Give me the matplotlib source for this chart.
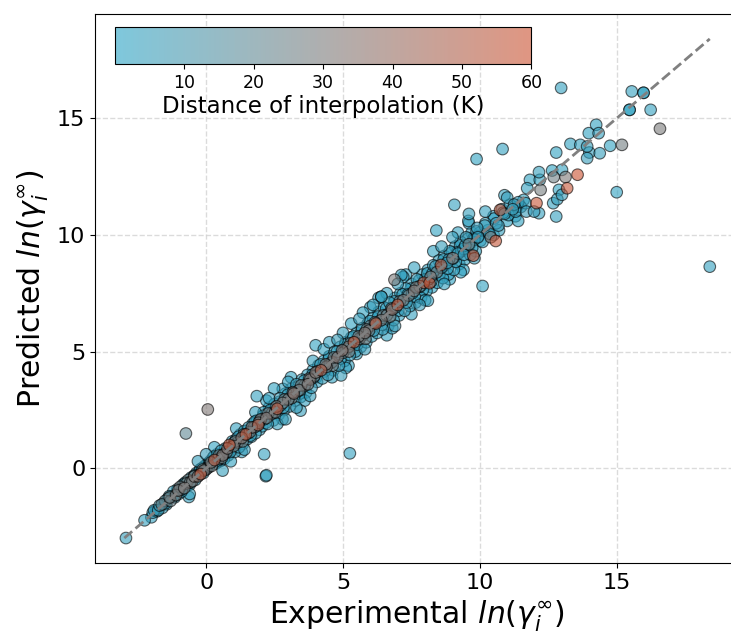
import numpy as np
import matplotlib
matplotlib.use("Agg")
import matplotlib.pyplot as plt
from matplotlib.colors import LinearSegmentedColormap

# Experimental vs predicted ln(gamma_inf), colour = distance of interpolation (K)
# values

# narrow band, -2 .. 0
band1_exp = [-2.0, -1.9, -1.8, -1.7, -1.6, -1.5, -1.45, -1.4, -1.3, -1.25, -1.2, -1.1, -1.05, -1.0,
             -0.95, -0.9, -0.85, -0.8, -0.75, -0.7, -0.65, -0.6, -0.55, -0.5, -0.45, -0.4, -0.35,
             -0.3, -0.25, -0.2, -0.15, -0.1, -0.05, 0.0, 0.05, 0.1]
band1_pred = [-2.1, -1.8, -1.85, -1.6, -1.7, -1.4, -1.55, -1.3, -1.4, -1.2, -1.0, -1.15, -0.9, -1.1,
              -0.8, -1.0, -0.7, -0.85, -0.6, -0.75, -0.5, -0.7, -0.4, -0.55, -0.35, -0.5, -0.2,
              -0.35, -0.15, -0.25, 0.0, -0.2, 0.1, -0.05, 0.2, 0.05]
band1_dist = [3, 5, 2, 8, 4, 20, 3, 6, 25, 2, 4, 30, 3, 1, 28, 5, 2, 32, 4, 1, 26, 3, 2, 30, 6, 1, 3,
              35, 2, 55, 4, 1, 3, 28, 2, 5]

# 0 .. 2
band2_exp = [0.15, 0.2, 0.25, 0.3, 0.35, 0.4, 0.45, 0.5, 0.55, 0.6, 0.65, 0.7, 0.75, 0.8, 0.85, 0.9,
             0.95, 1.0, 1.05, 1.1, 1.15, 1.2, 1.25, 1.3, 1.35, 1.4, 1.45, 1.5, 1.55, 1.6, 1.65, 1.7,
             1.75, 1.8, 1.85, 1.9, 1.95, 0.3, 0.6, 1.1, 1.4, 0.9, 1.8, 0.0, -0.3]
band2_pred = [0.3, 0.1, 0.45, 0.35, 0.2, 0.6, 0.4, 0.3, 0.75, 0.55, 0.4, 0.85, 0.7, 0.55, 1.0, 0.8,
              1.15, 0.95, 0.7, 1.25, 1.1, 0.9, 1.45, 1.3, 1.05, 1.6, 1.45, 1.25, 1.75, 1.55, 1.35, 1.9,
              1.75, 1.5, 2.05, 1.85, 1.65, 0.9, -0.1, 1.7, 0.8, 0.3, 2.4, 0.6, 0.3]
band2_dist = [3, 30, 2, 52, 4, 1, 27, 3, 5, 33, 2, 4, 29, 1, 58, 3, 2, 31, 4, 2, 26, 5, 3, 34, 1, 4,
              55, 2, 6, 30, 3, 1, 28, 4, 2, 50, 3, 2, 4, 3, 5, 2, 3, 5, 4]

# 2 .. 4
band3_exp = [2.0, 2.05, 2.1, 2.2, 2.25, 2.3, 2.4, 2.45, 2.5, 2.6, 2.65, 2.7, 2.8, 2.85, 2.9, 3.0,
             3.05, 3.1, 3.2, 3.25, 3.3, 3.4, 3.45, 3.5, 3.6, 3.65, 3.7, 3.8, 3.85, 3.9, 3.95,
             2.3, 2.6, 3.1, 3.6, 3.3, 2.8, 3.9, 2.9]
band3_pred = [2.1, 1.8, 2.4, 2.15, 1.9, 2.6, 2.35, 2.05, 2.75, 2.55, 2.3, 3.0, 2.8, 2.5, 3.2, 2.95,
              2.65, 3.4, 3.2, 2.9, 3.6, 3.35, 3.05, 3.8, 3.55, 3.25, 4.0, 3.8, 3.45, 4.2, 3.95,
              3.0, 1.9, 3.9, 2.9, 2.6, 3.4, 4.6, 2.1]
band3_dist = [29, 3, 2, 33, 5, 1, 27, 4, 3, 54, 2, 6, 31, 3, 1, 28, 4, 2, 35, 3, 5, 30, 2, 4, 26, 1,
              3, 32, 5, 2, 29, 3, 4, 2, 3, 5, 2, 4, 6]

# 4 .. 6
band4_exp = [4.0, 4.05, 4.1, 4.2, 4.25, 4.3, 4.4, 4.45, 4.5, 4.6, 4.65, 4.7, 4.8, 4.85, 4.9, 5.0,
             5.05, 5.1, 5.2, 5.25, 5.3, 5.4, 5.45, 5.5, 5.6, 5.65, 5.7, 5.8, 5.85, 5.9, 5.95,
             4.3, 4.6, 5.0, 5.5, 5.3, 5.8, 4.8, 5.1]
band4_pred = [4.1, 3.7, 4.4, 4.2, 3.85, 4.6, 4.35, 4.0, 4.8, 4.55, 4.2, 5.0, 4.75, 4.4, 5.2, 4.95,
              4.6, 5.4, 5.2, 4.85, 5.6, 5.4, 5.0, 5.8, 5.55, 5.2, 6.0, 5.8, 5.4, 6.2, 5.9,
              5.1, 3.9, 5.8, 4.9, 6.2, 5.1, 5.5, 4.3]
band4_dist = [33, 3, 2, 52, 4, 1, 30, 5, 3, 28, 2, 4, 34, 6, 1, 27, 3, 2, 31, 5, 3, 56, 4, 2, 29, 1,
              5, 33, 3, 2, 30, 3, 2, 4, 3, 2, 5, 6, 3]

# 6 .. 8
band5_exp = [6.0, 6.05, 6.1, 6.2, 6.25, 6.3, 6.4, 6.45, 6.5, 6.6, 6.65, 6.7, 6.8, 6.85, 6.9, 7.0,
             7.05, 7.1, 7.2, 7.25, 7.3, 7.4, 7.45, 7.5, 7.6, 7.65, 7.7, 7.8, 7.85, 7.9, 7.95,
             6.3, 6.6, 7.0, 7.5, 7.3, 7.8, 6.9, 7.6, 6.0, 6.4]
band5_pred = [6.1, 5.65, 6.45, 6.2, 5.8, 6.7, 6.35, 5.95, 6.9, 6.55, 6.1, 7.1, 6.8, 6.35, 7.3, 7.0,
              6.55, 7.5, 7.2, 6.75, 7.7, 7.4, 6.95, 7.9, 7.6, 7.1, 8.1, 7.8, 7.3, 8.3, 7.95,
              7.3, 5.7, 7.9, 6.6, 8.3, 7.0, 6.1, 8.6, 6.9, 7.35]
band5_dist = [28, 3, 2, 54, 4, 1, 31, 5, 3, 27, 2, 4, 35, 6, 1, 57, 3, 2, 30, 5, 3, 29, 4, 2, 33, 1,
              5, 26, 3, 2, 53, 3, 2, 4, 3, 2, 5, 6, 3, 2, 4]

# 8 .. 10
band6_exp = [8.0, 8.05, 8.1, 8.2, 8.25, 8.3, 8.4, 8.45, 8.5, 8.6, 8.65, 8.7, 8.8, 8.85, 8.9, 9.0,
             9.05, 9.1, 9.2, 9.25, 9.3, 9.4, 9.45, 9.5, 9.6, 9.65, 9.7, 9.8, 9.85, 9.9, 9.95,
             8.3, 8.7, 9.0, 9.4, 9.2, 9.8, 8.9, 9.6]
band6_pred = [8.1, 7.6, 8.5, 8.2, 7.75, 8.7, 8.4, 7.95, 8.9, 8.6, 8.15, 9.1, 8.8, 8.3, 9.3, 9.0,
              8.5, 9.5, 9.2, 8.75, 9.7, 9.4, 8.95, 9.9, 9.6, 9.15, 10.1, 9.8, 9.3, 10.3, 9.95,
              9.3, 7.9, 9.9, 8.5, 10.1, 9.0, 8.1, 10.5]
band6_dist = [4, 2, 3, 30, 1, 5, 3, 2, 4, 6, 3, 1, 6, 2, 4, 32, 3, 2, 5, 1, 3, 4, 2, 6, 28, 3, 1, 4,
              2, 5, 3, 2, 3, 4, 2, 3, 5, 1, 3]

# 10 .. 12
band7_exp = [10.0, 10.1, 10.2, 10.3, 10.4, 10.5, 10.6, 10.7, 10.8, 10.9, 11.0, 11.1, 11.2, 11.3,
             11.4, 11.5, 11.6, 11.7, 10.2, 10.5, 11.0]
band7_pred = [10.1, 9.7, 10.5, 10.2, 9.9, 10.8, 10.5, 10.2, 11.1, 10.9, 10.6, 11.3, 11.1, 10.8,
              11.4, 11.2, 11.5, 11.0, 11.0, 10.0, 11.6]
band7_dist = [2, 3, 4, 1, 30, 2, 5, 3, 2, 4, 1, 3, 6, 2, 4, 3, 2, 5, 3, 2, 4]

# more points filling the band, -1.6 .. 11.4
fill_exp = [-1.55, -1.35, -1.15, -0.98, -0.78, -0.58, -0.42, -0.22, -0.08, 0.12, 0.28, 0.42, 0.58,
            0.72, 0.88, 1.02, 1.18, 1.33, 1.48, 1.62, 1.78, 1.92, 2.08, 2.18, 2.35, 2.52, 2.68,
            2.82, 2.98, 3.12, 3.28, 3.42, 3.58, 3.72, 3.88, 4.02, 4.18, 4.32, 4.48, 4.62, 4.78,
            4.92, 5.08, 5.22, 5.38, 5.52, 5.68, 5.82, 5.98, 6.12, 6.28, 6.42, 6.58, 6.72, 6.88,
            7.02, 7.18, 7.32, 7.48, 7.62, 7.78, 7.92, 8.08, 8.22, 8.38, 8.52, 8.68, 8.82, 8.98,
            9.12, 9.28, 9.42, 9.58, 9.72, 9.88, 10.02, 10.18, 10.35, 10.52, 10.68, 10.85, 11.05,
            11.25, 4.5, 5.2, 6.1, 6.8, 7.2, 8.0, 8.6, 9.3, 3.0, 3.8, 2.2, 1.3, 10.9, 11.4, 5.6, 6.6]
fill_pred = [-1.5, -1.2, -1.25, -0.95, -0.65, -0.6, -0.3, -0.05, -0.1, 0.15, 0.5, 0.3, 0.45,
             0.65, 0.7, 1.1, 1.35, 1.15, 1.6, 1.4, 2.0, 1.95, 2.25, 1.95, 2.5, 2.4, 2.85,
             2.6, 3.15, 3.0, 3.45, 3.2, 3.75, 3.6, 4.0, 3.9, 4.45, 4.15, 4.7, 4.4, 5.0,
             4.7, 5.3, 5.0, 5.65, 5.3, 5.9, 5.55, 6.3, 5.9, 6.5, 6.15, 6.85, 6.5, 7.15,
             6.75, 7.45, 7.1, 7.7, 7.35, 8.05, 7.65, 8.35, 8.0, 8.65, 8.3, 8.95, 8.55, 9.25,
             8.85, 9.55, 9.15, 9.85, 9.45, 10.15, 9.75, 10.4, 10.05, 10.7, 10.4, 10.95, 10.85,
             11.3, 5.4, 4.4, 7.0, 6.0, 8.2, 7.2, 9.5, 8.4, 3.7, 3.1, 2.9, 0.7, 11.7, 10.6, 6.4, 7.5]
fill_dist = [2, 4, 3, 5, 2, 27, 4, 3, 30, 2, 4, 3, 29, 2, 4, 3, 5, 28, 2, 4, 3, 31, 2, 4, 3, 30, 2,
             4, 5, 27, 3, 2, 4, 33, 3, 2, 5, 3, 2, 29, 4, 3, 2, 32, 3, 4, 2, 30, 3, 5, 2, 4, 3, 28,
             2, 4, 3, 5, 2, 4, 3, 2, 4, 3, 5, 2, 4, 3, 2, 4, 3, 5, 2, 4, 3, 2, 4, 3, 2, 5, 3, 2, 4,
             3, 2, 4, 3, 2, 3, 4, 2, 3, 4, 2, 3, 3, 2, 5, 3]

# points right on the diagonal (dark core of the band)
core_exp = [-1.95, -1.75, -1.62, -1.48, -1.33, -1.18, -1.02, -0.88, -0.72, -0.57,
            -0.43, -0.27, -0.12, 0.03, 0.18, 0.33, 0.47, 0.63, 0.78, 0.93,
            1.07, 1.22, 1.38, 1.53, 1.67, 1.83, 1.97, 2.12, 2.27, 2.43,
            2.57, 2.72, 2.87, 3.03, 3.17, 3.33, 3.47, 3.63, 3.77, 3.93,
            4.07, 4.23, 4.37, 4.53, 4.67, 4.83, 4.97, 5.13, 5.27, 5.43,
            5.57, 5.73, 5.87, 6.03, 6.17, 6.33, 6.47, 6.63, 6.77, 6.93,
            7.07, 7.23, 7.37, 7.53, 7.67, 7.83, 7.97, 8.13, 8.27, 8.43,
            8.57, 8.73, 8.87, 9.03, 9.17, 9.33, 9.47, 9.63, 9.77, 9.93]
core_pred = [-1.9, -1.8, -1.55, -1.5, -1.25, -1.2, -0.95, -0.9, -0.65, -0.6,
             -0.35, -0.3, -0.05, 0.0, 0.25, 0.3, 0.55, 0.6, 0.85, 0.9,
             1.15, 1.2, 1.45, 1.5, 1.75, 1.8, 2.05, 2.1, 2.35, 2.4,
             2.65, 2.7, 2.95, 3.0, 3.25, 3.3, 3.55, 3.6, 3.85, 3.9,
             4.15, 4.2, 4.45, 4.5, 4.75, 4.8, 5.05, 5.1, 5.35, 5.4,
             5.65, 5.7, 5.95, 6.0, 6.25, 6.3, 6.55, 6.6, 6.85, 6.9,
             7.15, 7.2, 7.45, 7.5, 7.75, 7.8, 8.05, 8.1, 8.35, 8.4,
             8.65, 8.7, 8.95, 9.0, 9.25, 9.3, 9.55, 9.6, 9.85, 9.9]
core_dist = [3, 6, 22, 4, 28, 3, 30, 5, 26, 2,
             33, 4, 29, 3, 31, 2, 27, 5, 34, 3,
             30, 2, 28, 4, 32, 3, 25, 5, 29, 2,
             33, 4, 27, 3, 31, 5, 28, 2, 30, 4,
             26, 3, 32, 5, 29, 2, 34, 4, 27, 3,
             30, 5, 28, 2, 31, 4, 26, 3, 33, 5,
             29, 2, 3, 4, 30, 5, 2, 3, 4, 28,
             3, 2, 5, 4, 3, 2, 4, 3, 2, 5]

# upper tail, 11.3 .. 16.6
tail_exp = [11.31, 11.37, 11.67, 11.73, 11.83, 11.98, 12.16, 12.19, 12.22, 12.16, 12.64, 12.68,
            12.7, 12.79, 12.79, 12.83, 12.89, 13.0, 13.0, 13.13, 13.31, 13.67, 13.92, 13.98, 14.0,
            13.92, 14.25, 14.34, 14.38, 14.76, 15.19, 15.47, 15.47, 15.55, 15.98, 15.98, 16.24,
            16.58]
tail_pred = [11.0, 11.21, 11.36, 12.0, 12.36, 11.0, 10.93, 12.36, 11.93, 12.69, 12.76, 11.36,
             12.48, 13.53, 10.79, 11.53, 11.93, 12.79, 11.72, 12.48, 13.9, 13.86, 13.79, 14.36, 13.53,
             13.29, 14.72, 14.36, 13.5, 13.82, 13.86, 15.36, 15.36, 16.15, 16.09, 16.09, 15.36,
             14.55]
tail_dist = [3, 2, 4, 3, 2, 5, 3, 2, 28, 4, 2, 3, 26, 2, 3, 4, 2, 3, 5, 31, 2, 3, 4, 2, 3, 5, 2, 3,
             4, 2, 27, 1, 2, 3, 1, 2, 3, 30]

# points away from the diagonal
out_exp = [-2.93, -2.25, -1.83, -0.63, -0.6, -0.74, 0.06, 1.85, 2.48, 3.45, 2.79, 2.12, 2.18,
           2.2, 5.25, 4.0, 4.93, 6.88, 6.4, 5.73, 8.1, 7.13, 8.41, 9.07, 9.6, 9.58, 10.1, 9.88,
           10.83, 12.97, 15.0, 18.4]
out_pred = [-2.99, -2.23, -1.8, -1.23, -1.1, 1.49, 2.52, 3.09, 3.42, 2.47, 2.1, 0.6, -0.34,
            -0.3, 0.64, 5.27, 3.98, 8.08, 7.35, 6.67, 7.18, 8.28, 10.19, 11.29, 10.9, 10.6, 7.81,
            13.25, 13.68, 16.3, 11.83, 8.64]
out_dist = [4, 3, 2, 3, 4, 20, 32, 3, 2, 4, 3, 3, 2, 4, 3, 2, 4, 30, 3, 2, 3, 3, 2, 3, 4, 3, 2,
            2, 3, 3, 2, 3]

# points with large interpolation distance along the line
far_exp = [8.16, 8.58, 9.76, 10.58, 10.74, 12.07, 13.19, 13.57]
far_pred = [7.93, 8.71, 9.11, 9.74, 11.07, 11.36, 12.0, 12.58]
far_dist = [58, 56, 59, 57, 55, 58, 57, 60]

exp_all = np.array(band1_exp + band2_exp + band3_exp + band4_exp + band5_exp + band6_exp
                   + band7_exp + fill_exp + core_exp + tail_exp + out_exp + far_exp)
pred_all = np.array(band1_pred + band2_pred + band3_pred + band4_pred + band5_pred + band6_pred
                    + band7_pred + fill_pred + core_pred + tail_pred + out_pred + far_pred)
dist_all = np.array(band1_dist + band2_dist + band3_dist + band4_dist + band5_dist + band6_dist
                    + band7_dist + fill_dist + core_dist + tail_dist + out_dist + far_dist)

# draw far points last so they sit on top
order = np.argsort(dist_all, kind="stable")
exp_all, pred_all, dist_all = exp_all[order], pred_all[order], dist_all[order]

cmap = LinearSegmentedColormap.from_list("interp", ["#28A3C5", "#7A7A7A", "#CB502F"])

fig = plt.figure(figsize=(7.31, 6.34), dpi=100)
ax = fig.add_axes([0.130, 0.112, 0.881, 0.866])

sc = ax.scatter(exp_all, pred_all, c=dist_all, cmap=cmap, vmin=0, vmax=60,
                s=70, alpha=0.6, edgecolors="black", linewidths=0.8, zorder=3)

lo = min(exp_all.min(), pred_all.min())
hi = max(exp_all.max(), pred_all.max())
ax.plot([lo, hi], [lo, hi], linestyle="--", color="gray", linewidth=2, zorder=4)

ax.grid(True, linestyle="--", color="lightgray", alpha=0.8, linewidth=1, zorder=0)
ax.set_axisbelow(True)
ax.spines["right"].set_visible(False)

ax.set_xticks([0, 5, 10, 15])
ax.set_yticks([0, 5, 10, 15])
ax.tick_params(axis="both", labelsize=16)
ax.set_xlabel(r"Experimental $ln(\gamma_i^{\infty})$", fontsize=21.5)
ax.set_ylabel(r"Predicted $ln(\gamma_i^{\infty})$", fontsize=21.5)

cax = fig.add_axes([0.157, 0.899, 0.570, 0.058])
cb = fig.colorbar(sc, cax=cax, orientation="horizontal")
cb.set_ticks([10, 20, 30, 40, 50, 60])
cb.ax.tick_params(labelsize=12.5)
cb.set_label("Distance of interpolation (K)", fontsize=16.5, labelpad=2)

fig.savefig("out.png", dpi=100)
